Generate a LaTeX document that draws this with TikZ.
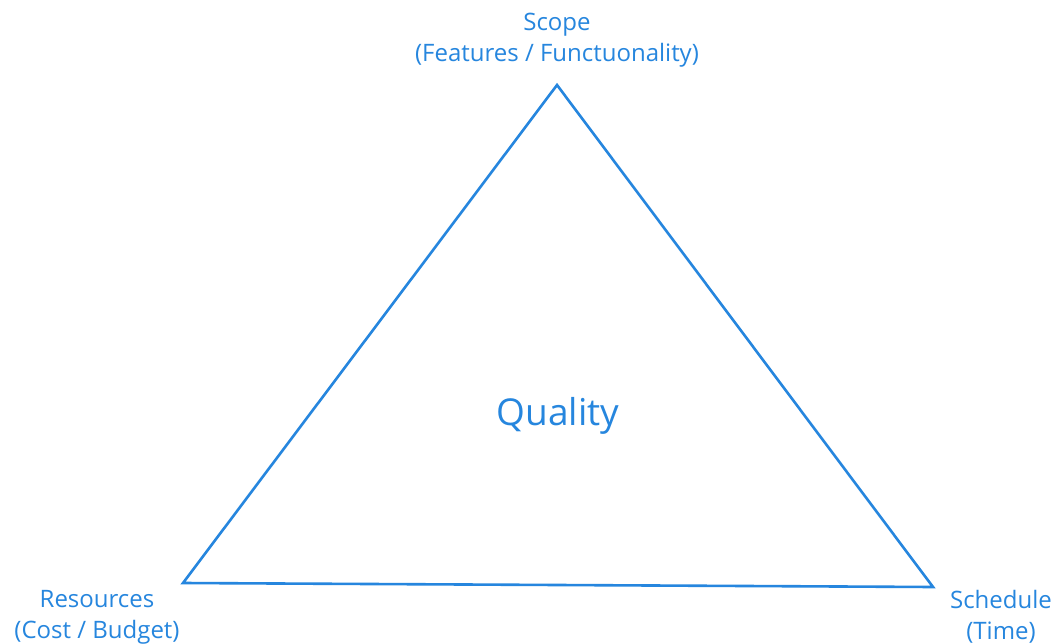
\documentclass[tikz,border=0pt]{standalone}
\usepackage{fontspec}
\setmainfont{Open Sans}
\definecolor{tblue}{RGB}{38,134,222}
\begin{document}
\begin{tikzpicture}[x=1pt,y=-1pt,
  lbl/.style={text=tblue,font=\fontsize{24}{31}\selectfont,align=center,inner sep=0pt},
  edge/.style={draw=tblue,line width=2.6pt,line join=miter}]
\useasboundingbox[fill=white] (0,0) rectangle (1059,644);
\coordinate (top) at (557,85);
\coordinate (bl) at (183,583);
\coordinate (br) at (933,587);
\draw[edge] (top) -- (bl) -- (br) -- cycle;
\node[lbl] (scope) at (557,40.5) {Scope\\(Features / Functuonality)};
\node[lbl] (res) at (97,617) {Resources\\(Cost / Budget)};
\node[lbl] (sched) at (1001,617) {Schedule\\(Time)};
\node[lbl,font=\fontsize{37}{44}\selectfont] (q) at (558,416) {Quality};
\end{tikzpicture}
\end{document}
